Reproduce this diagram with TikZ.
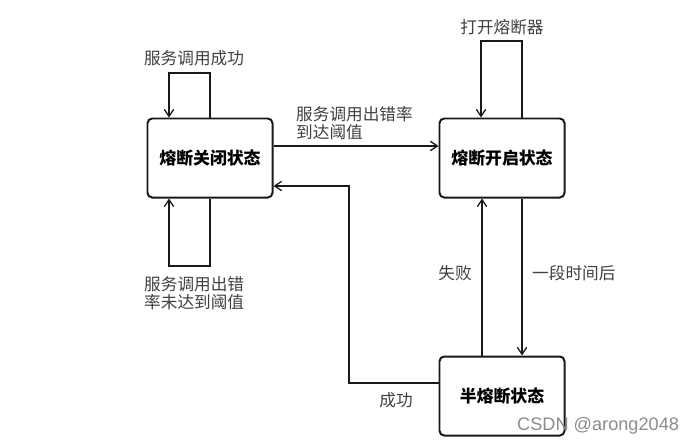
\documentclass[tikz,border=0pt]{standalone}
\usepackage{fontspec}
\setmainfont{Noto Sans CJK SC}
\setsansfont{Liberation Sans}
\usetikzlibrary{arrows.meta, positioning, calc}

\begin{document}
\begin{tikzpicture}[
  x=0.03cm, y=-0.03cm,
  font=\fontsize{14.2}{15.5}\selectfont,
  >={Straight Barb[length=6pt, width=8pt, line width=1.1pt]},
  state/.style={
    draw=black!90,
    rounded corners=4pt,
    align=center,
    minimum width=3.75cm,
    minimum height=2.37cm,
    fill=white,
    line width=1.7pt,
    font=\fontsize{14.4}{16}\selectfont\bfseries
  },
  arrow/.style={->, line width=1.4pt, draw=black!90},
  note/.style={text=black!75, align=left, inner sep=0pt}
]

% 画布
\path[use as bounding box, fill=white] (0,0) rectangle (700,445);

% 三个状态
\node[state] (closed) at (210,158) {熔断关闭状态};
\node[state] (open) at (502,158) {熔断开启状态};
\node[state] (half) at (502,396) {半熔断状态};

% 辅助拐点
\coordinate (ctop) at (169,73);
\coordinate (cbot) at (169,266);
\coordinate (otop) at (481,41);
\coordinate (back) at (349,186);

% 熔断关闭状态：自环
\draw[arrow] (closed.north) |- (ctop) -- (ctop |- closed.north);
\draw[arrow] (closed.south) |- (cbot) -- (cbot |- closed.south);

% 关闭 -> 开启
\draw[arrow] ([yshift=0.36cm]closed.east) -- ([yshift=0.36cm]open.west);

% 开启状态：自环
\draw[arrow] ([xshift=0.6cm]open.north) |- (otop) -- (otop |- open.north);

% 开启 <-> 半熔断
\draw[arrow] ([xshift=0.6cm]open.south) -- ([xshift=0.6cm]half.north);
\draw[arrow] ([xshift=-0.6cm]half.north) -- ([xshift=-0.6cm]open.south);

% 半熔断 -> 关闭
\draw[arrow] ([yshift=0.39cm]half.west) -| (back) -- (back -| closed.east);

% 标签
\node[note] (lok) at (194,58) {服务调用成功};
\node[note, anchor=west] (lerr) at (296,123) {服务调用出错率\\到达阈值};
\node[note, anchor=west] (lbelow) at (144,293) {服务调用出错\\率未达到阈值};
\node[note] (lopen) at (502,27) {打开熔断器};
\node[note] (lfail) at (455,273) {失败};
\node[note, anchor=west] (lwait) at (532,273) {一段时间后};
\node[note] (lsucc) at (396,400) {成功};
\node[text=black!45, anchor=west, inner sep=0pt, font=\fontsize{15.5}{17}\sffamily] (mark) at (517,426) {CSDN @arong2048};

\end{tikzpicture}
\end{document}
